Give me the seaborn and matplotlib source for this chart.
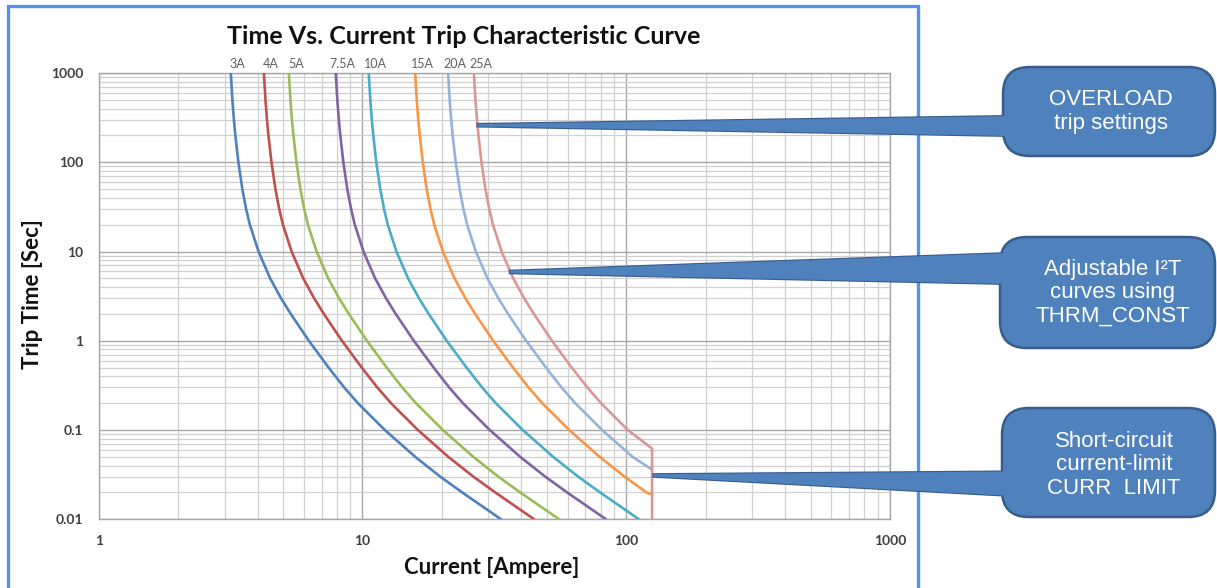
import pandas as pd
import seaborn as sns
import matplotlib.pyplot as plt
from matplotlib.patches import FancyBboxPatch, Polygon, Rectangle
from matplotlib.ticker import FixedLocator, LogLocator, NullFormatter

# curve data (current in A for each trip time in s)
ratings = ["3A", "4A", "5A", "7.5A", "10A", "15A", "20A", "25A"]
colors = ["#4f81bd", "#c0504d", "#9bbb59", "#8064a2", "#4bacc6", "#f79646", "#95b3d7", "#d99795"]

trip_time = [1000, 500, 300, 200, 100, 50, 30, 20, 10, 5, 3, 2, 1,
             0.5, 0.3, 0.2, 0.1, 0.05, 0.03, 0.02, 0.01]

i_3a = [3.168, 3.212, 3.255, 3.297, 3.385, 3.504, 3.621, 3.741, 4.036, 4.467, 4.911,
        5.348, 6.263, 7.447, 8.527, 9.610, 12.16, 15.86, 19.74, 23.88, 33.54]
i_4a = [4.229, 4.288, 4.345, 4.401, 4.519, 4.678, 4.834, 4.994, 5.388, 5.963, 6.556,
        7.140, 8.361, 9.942, 11.38, 12.83, 16.23, 21.17, 26.35, 31.88, 44.78]
i_5a = [5.259, 5.332, 5.403, 5.473, 5.619, 5.817, 6.011, 6.210, 6.700, 7.415, 8.152,
        8.878, 10.40, 12.36, 14.15, 15.95, 20.19, 26.33, 32.77, 39.64, 55.68]
i_7a5 = [7.920, 8.030, 8.138, 8.243, 8.463, 8.760, 9.053, 9.353, 10.09, 11.17, 12.28,
         13.37, 15.66, 18.62, 21.32, 24.03, 30.40, 39.65, 49.35, 59.70, 83.85]
i_10a = [10.56, 10.71, 10.85, 10.99, 11.28, 11.68, 12.07, 12.47, 13.45, 14.89, 16.37,
         17.83, 20.87, 24.82, 28.42, 32.03, 40.53, 52.86, 65.79, 79.59, 111.8]
i_15a = [15.84, 16.06, 16.28, 16.49, 16.93, 17.52, 18.11, 18.71, 20.18, 22.34, 24.56,
         26.74, 31.32, 37.24, 42.64, 48.05, 60.80, 79.30, 98.70, 119.4]
i_20a = [21.12, 21.41, 21.70, 21.98, 22.57, 23.36, 24.14, 24.94, 26.91, 29.78, 32.74,
         35.65, 41.75, 49.65, 56.85, 64.07, 81.07, 105.7]
i_25a = [26.45, 26.82, 27.18, 27.53, 28.26, 29.26, 30.24, 31.24, 33.70, 37.30, 41.01,
         44.66, 52.30, 62.18, 71.20, 80.24, 101.5]

# short-circuit current limit and where the big curves hit it
curr_limit = 125.3
limit_time_15a = [0.0188]
limit_time_20a = [0.036]
limit_time_25a = [0.062, 0.01]

y_ticks = [0.01, 0.1, 1, 10, 100, 1000]
y_tick_labels = ["0.01", "0.1", "1", "10", "100", "1000"]
x_ticks = [1, 10, 100, 1000]
x_tick_labels = ["1", "10", "100", "1000"]

callout_texts = ["OVERLOAD\ntrip settings",
                 "Adjustable I\u00b2T\ncurves using\nTHRM_CONST",
                 "Short-circuit\ncurrent-limit\nCURR  LIMIT"]
# where each callout points (current, time)
callout_tips = [(27.3, 260), (36.2, 5.9), (126.8, 0.031)]

curves = [
    (i_3a, trip_time),
    (i_4a, trip_time),
    (i_5a, trip_time),
    (i_7a5, trip_time),
    (i_10a, trip_time),
    (i_15a + [curr_limit], trip_time[:len(i_15a)] + limit_time_15a),
    (i_20a + [curr_limit], trip_time[:len(i_20a)] + limit_time_20a),
    (i_25a + [curr_limit] * 2, trip_time[:len(i_25a)] + limit_time_25a),
]
rows = []
for name, (cur, tt) in zip(ratings, curves):
    for c, t in zip(cur, tt):
        rows.append({"rating": name, "current": c, "time": t})
df = pd.DataFrame(rows)

sns.set_style("white")
plt.rcParams['font.family'] = ['Lato', 'DejaVu Sans']

W, H = 1217, 588
fig = plt.figure(figsize=(W / 100, H / 100), dpi=100)
L, R, T, B = 98.7, 890, 73, 519.3
ax = fig.add_axes([L / W, 1 - B / H, (R - L) / W, (B - T) / H])
ax.set_xscale("log")
ax.set_yscale("log")

sns.lineplot(data=df, x="current", y="time", hue="rating", hue_order=ratings,
             palette=colors, estimator=None, sort=False, linewidth=1.9,
             legend=False, ax=ax, zorder=3)

ax.set_xlim(1, 1000)
ax.set_ylim(0.01, 1000)
ax.xaxis.set_major_locator(FixedLocator(x_ticks))
ax.yaxis.set_major_locator(FixedLocator(y_ticks))
ax.set_xticklabels(x_tick_labels)
ax.set_yticklabels(y_tick_labels)
ax.xaxis.set_minor_locator(LogLocator(base=10, subs=range(2, 10)))
ax.yaxis.set_minor_locator(LogLocator(base=10, subs=range(2, 10)))
ax.xaxis.set_minor_formatter(NullFormatter())
ax.yaxis.set_minor_formatter(NullFormatter())
ax.grid(which="major", color="#a8a8a8", linewidth=1.0)
ax.grid(which="minor", color="#d0d0d0", linewidth=0.9)
ax.tick_params(which="major", length=3, width=0.8, color="#a0a0a0", pad=8,
               labelsize=10, labelcolor="#404040")
ax.tick_params(which="minor", length=0)
for lab in ax.get_xticklabels() + ax.get_yticklabels():
    lab.set_fontweight("bold")
for s in ax.spines.values():
    s.set_color("#a8a8a8")
    s.set_linewidth(1.0)

ax.set_xlabel("Current [Ampere]", fontsize=16, fontweight="bold", color="#111111")
ax.set_ylabel("Trip Time [Sec]", fontsize=16, fontweight="bold", color="#111111")
ax.xaxis.set_label_coords((492 - L) / (R - L), (B - 557) / (B - T))
ax.yaxis.set_label_coords((43 - L) / (R - L), (B - 294) / (B - T))

# rating labels above the top of each curve
for name, (cur, tt) in zip(ratings, curves):
    ax.annotate(name, xy=(cur[0], tt[0]), xytext=(5, 2), textcoords="offset points",
                ha="center", va="bottom", fontsize=9, color="#606060",
                annotation_clip=False)

fig.text(464 / W, 1 - 36 / H, "Time Vs. Current Trip Characteristic Curve",
         ha="center", va="center", fontsize=18, fontweight="bold", color="#111111")

# blue chart frame
fig.add_artist(Rectangle((8 / W, -0.05), (918 - 8) / W, 1.05 - 6 / H,
                         transform=fig.transFigure, fill=False,
                         edgecolor="#5592ea", linewidth=2.4))


def fpx(x, y):
    return (x / W, 1 - y / H)


boxes = [(1003, 67, 1215, 156), (1000, 237, 1215, 348), (1002, 408, 1215, 517)]
bases = [(116, 136), (253, 284), (471.5, 496)]
text_centers = [(1111, 111.5), (1113, 293), (1114, 465)]
fill_c, edge_c = "#4f81bd", "#385d8a"
inv = fig.transFigure.inverted()
for (x0, y0, x1, y1), (bt, bb), tip, txt, (tx, ty) in zip(boxes, bases, callout_tips,
                                                        callout_texts, text_centers):
    tipf = inv.transform(ax.transData.transform(tip))
    tip_x, tip_y = tipf[0] * W, (1 - tipf[1]) * H
    pts = [fpx(tip_x, tip_y - 1.2), fpx(x0 + 12, bt), fpx(x0 + 12, bb), fpx(tip_x, tip_y + 1.2)]
    fig.add_artist(Polygon(pts, closed=True, transform=fig.transFigure,
                           facecolor=fill_c, edgecolor=edge_c, linewidth=1.6, zorder=5))
    fig.add_artist(FancyBboxPatch(fpx(x0, y1), (x1 - x0) / W, (y1 - y0) / H,
                                  boxstyle="round,pad=0,rounding_size=0.022",
                                  transform=fig.transFigure, facecolor=fill_c,
                                  edgecolor=edge_c, linewidth=1.8, zorder=6,
                                  mutation_aspect=W / H))
    fig.add_artist(Polygon(pts, closed=True, transform=fig.transFigure,
                           facecolor=fill_c, edgecolor="none", zorder=7))
    fig.text(tx / W, 1 - ty / H, txt, ha="center", va="center", color="white",
             fontsize=16, family=["Liberation Sans", "DejaVu Sans"],
             linespacing=1.15, zorder=8)

fig.savefig("out.png", dpi=100)
